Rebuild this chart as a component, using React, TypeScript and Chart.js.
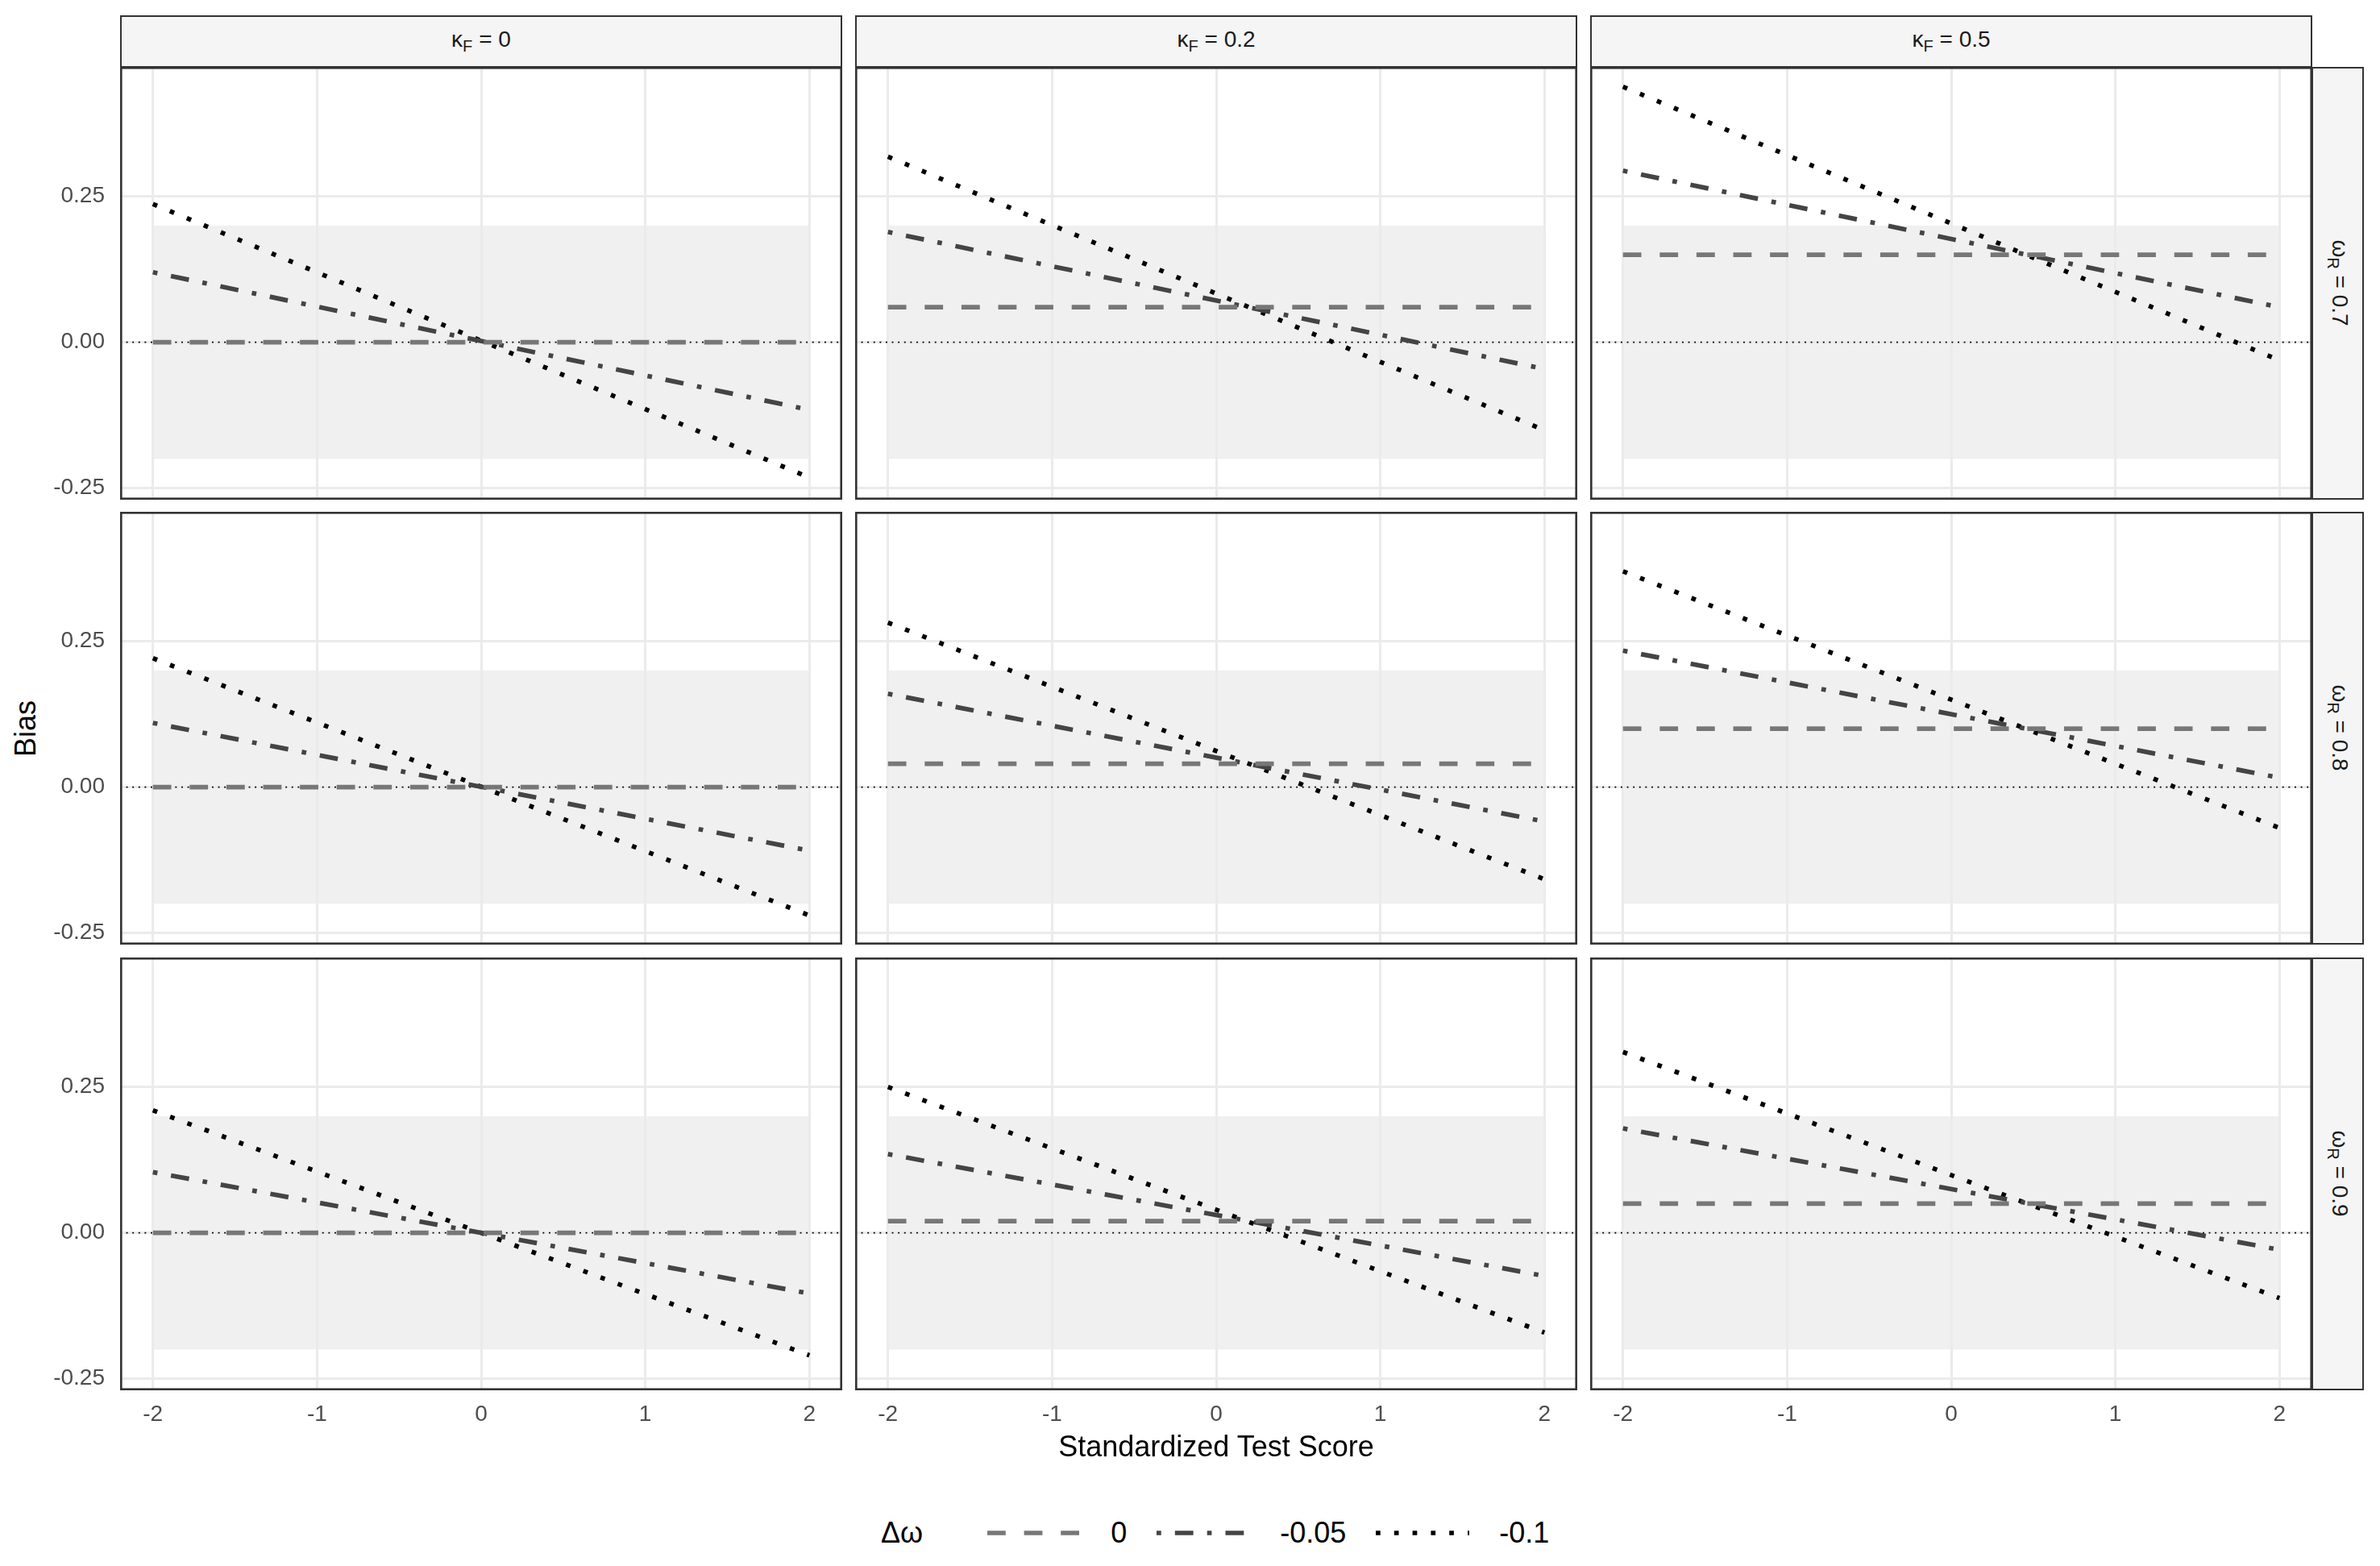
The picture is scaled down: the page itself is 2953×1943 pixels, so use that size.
import React, { useEffect, useRef } from 'react';
import { Chart, registerables } from 'chart.js';

Chart.register(...registerables);
Chart.defaults.font.family = "'Liberation Sans', Arial, Helvetica, sans-serif";

// facet levels
const kappaLevels = ['0', '0.2', '0.5'];
const omegaLevels = ['0.7', '0.8', '0.9'];
const deltaLevels = ['0', '-0.05', '-0.1'];

// axes
const xTicks = [-2, -1, 0, 1, 2];
const xTickLabels = ['-2', '-1', '0', '1', '2'];
const yTicks = [-0.25, 0, 0.25];
const yTickLabels = ['-0.25', '0.00', '0.25'];
const X_MIN = -2.2;
const X_MAX = 2.2;
const Y_MIN = -0.27;
const Y_MAX = 0.472;

// standardized test score at the two ends of every line
const scoreEnds = [-2, 2];

// bias at score -2 and +2, rows = omega_R, columns = kappa_F
const biasDelta0 = [
  [[0, 0], [0.06, 0.06], [0.15, 0.15]],
  [[0, 0], [0.04, 0.04], [0.1, 0.1]],
  [[0, 0], [0.02, 0.02], [0.05, 0.05]],
];
const biasDelta005 = [
  [[0.12, -0.116], [0.189, -0.046], [0.294, 0.06]],
  [[0.11, -0.109], [0.16, -0.059], [0.234, 0.016]],
  [[0.104, -0.104], [0.135, -0.074], [0.179, -0.029]],
];
const biasDelta01 = [
  [[0.237, -0.232], [0.318, -0.151], [0.438, -0.031]],
  [[0.221, -0.22], [0.282, -0.158], [0.37, -0.07]],
  [[0.21, -0.21], [0.25, -0.171], [0.31, -0.112]],
];

// shaded tolerance band and zero reference
const bandScore = [-2, 2];
const bandBias = [-0.2, 0.2];
const referenceBias = 0;

const LW = 5.7;
const lineColors = ['#777777', '#444444', '#000000'];
const lineDashes = [
  [4 * LW, 4 * LW],
  [LW, 3 * LW, 4 * LW, 3 * LW],
  [LW, 3 * LW],
];

// layout (px)
const colX = [149, 1061, 1973];
const rowY = [83, 635, 1188];
const PANEL_W = 896;
const PANEL_H = 537;
const Y_AXIS_W = 89;
const X_AXIS_H = 62;
const STRIP = 64;

const panelDecor = {
  id: 'panelDecor',
  beforeDraw(chart: any) {
    const { ctx, scales } = chart;
    const x0 = scales.x.getPixelForValue(bandScore[0]);
    const x1 = scales.x.getPixelForValue(bandScore[1]);
    const y0 = scales.y.getPixelForValue(bandBias[1]);
    const y1 = scales.y.getPixelForValue(bandBias[0]);
    ctx.save();
    ctx.fillStyle = '#f0f0f0';
    ctx.fillRect(x0, y0, x1 - x0, y1 - y0);
    ctx.restore();
  },
  beforeDatasetsDraw(chart: any) {
    const { ctx, chartArea: a, scales } = chart;
    const y = scales.y.getPixelForValue(referenceBias);
    ctx.save();
    ctx.strokeStyle = '#000';
    ctx.lineWidth = 1.9;
    ctx.setLineDash([1.9, 5.7]);
    ctx.beginPath();
    ctx.moveTo(a.left, y);
    ctx.lineTo(a.right, y);
    ctx.stroke();
    ctx.restore();
  },
  afterDraw(chart: any) {
    const { ctx, chartArea: a } = chart;
    ctx.save();
    ctx.strokeStyle = '#333';
    ctx.lineWidth = 2.6;
    ctx.strokeRect(a.left + 1.3, a.top + 1.3, a.right - a.left - 2.6, a.bottom - a.top - 2.6);
    ctx.restore();
  },
};

const noPadding = (s: any) => {
  s.paddingTop = 0;
  s.paddingBottom = 0;
  s.paddingLeft = 0;
  s.paddingRight = 0;
};

const Panel: React.FC<{ row: number; col: number }> = ({ row, col }) => {
  const canvasRef = useRef<HTMLCanvasElement | null>(null);
  const isLeft = col === 0;
  const isBottom = row === 2;
  const w = PANEL_W + (isLeft ? Y_AXIS_W : 0);
  const h = PANEL_H + (isBottom ? X_AXIS_H : 0);

  useEffect(() => {
    if (!canvasRef.current) return;
    const series = [biasDelta0, biasDelta005, biasDelta01];
    const chart = new Chart(canvasRef.current, {
      type: 'line',
      data: {
        datasets: series.map((s, i) => ({
          label: deltaLevels[i],
          data: scoreEnds.map((x, j) => ({ x, y: s[row][col][j] })),
          borderColor: lineColors[i],
          borderDash: lineDashes[i],
          borderWidth: LW,
          borderCapStyle: 'butt',
          pointRadius: 0,
          fill: false,
          tension: 0,
        })),
      },
      options: {
        animation: false,
        responsive: false,
        devicePixelRatio: 1,
        layout: { padding: 0 },
        plugins: { legend: { display: false }, tooltip: { enabled: false } },
        scales: {
          x: {
            type: 'linear',
            min: X_MIN,
            max: X_MAX,
            afterBuildTicks: (s: any) => {
              s.ticks = xTicks.map((v) => ({ value: v }));
            },
            afterFit: (s: any) => {
              s.height = isBottom ? X_AXIS_H : 0;
              noPadding(s);
            },
            grid: { color: '#ebebeb', lineWidth: 3, drawTicks: false },
            border: { display: false },
            ticks: {
              display: isBottom,
              padding: 13,
              color: '#4d4d4d',
              font: { size: 28 },
              maxRotation: 0,
              autoSkip: false,
              callback: (v: any) => xTickLabels[xTicks.indexOf(Number(v))],
            },
          },
          y: {
            type: 'linear',
            min: Y_MIN,
            max: Y_MAX,
            afterBuildTicks: (s: any) => {
              s.ticks = yTicks.map((v) => ({ value: v }));
            },
            afterFit: (s: any) => {
              s.width = isLeft ? Y_AXIS_W : 0;
              noPadding(s);
            },
            grid: { color: '#ebebeb', lineWidth: 3, drawTicks: false },
            border: { display: false },
            ticks: {
              display: isLeft,
              padding: 19,
              color: '#4d4d4d',
              font: { size: 28 },
              autoSkip: false,
              callback: (v: any) => yTickLabels[yTicks.indexOf(Number(v))],
            },
          },
        },
      } as any,
      plugins: [panelDecor],
    });
    return () => {
      chart.destroy();
    };
  }, [row, col]);

  return (
    <canvas
      ref={canvasRef}
      width={w}
      height={h}
      style={{
        position: 'absolute',
        left: colX[col] - (isLeft ? Y_AXIS_W : 0),
        top: rowY[row],
        width: w,
        height: h,
      }}
    />
  );
};

const stripStyle: React.CSSProperties = {
  position: 'absolute',
  boxSizing: 'border-box',
  background: '#f5f5f5',
  border: '2.6px solid #333',
  display: 'flex',
  alignItems: 'center',
  justifyContent: 'center',
  fontSize: 28,
  color: '#1a1a1a',
  whiteSpace: 'nowrap',
};

const subStyle: React.CSSProperties = { fontSize: '0.72em', verticalAlign: '-0.3em' };

const LegendKey: React.FC<{ i: number }> = ({ i }) => (
  <svg width={116} height={20} style={{ display: 'block' }}>
    <line
      x1={0}
      y1={10}
      x2={116}
      y2={10}
      stroke={lineColors[i]}
      strokeWidth={LW}
      strokeDasharray={lineDashes[i].join(' ')}
    />
  </svg>
);

export default function App() {
  const font = "'Liberation Sans', Arial, Helvetica, sans-serif";
  return (
    <div
      style={{
        position: 'absolute',
        left: 0,
        top: 0,
        width: 2953,
        height: 1943,
        background: '#fff',
        overflow: 'hidden',
        fontFamily: font,
      }}
    >
      {kappaLevels.map((k, c) => (
        <div key={'t' + c} style={{ ...stripStyle, left: colX[c], top: rowY[0] - STRIP, width: PANEL_W, height: STRIP + 1 }}>
          <span>
            κ<sub style={subStyle}>F</sub> = {k}
          </span>
        </div>
      ))}
      {omegaLevels.map((o, r) => (
        <div key={'r' + r} style={{ ...stripStyle, left: colX[2] + PANEL_W - 1, top: rowY[r], width: STRIP + 1, height: PANEL_H }}>
          <span style={{ transform: 'rotate(90deg)', display: 'inline-block' }}>
            ω<sub style={subStyle}>R</sub> = {o}
          </span>
        </div>
      ))}
      {omegaLevels.map((_, r) =>
        kappaLevels.map((__, c) => <Panel key={r + '-' + c} row={r} col={c} />)
      )}
      <div
        style={{
          position: 'absolute',
          left: 32,
          top: (rowY[0] + rowY[2] + PANEL_H) / 2,
          transform: 'translate(-50%, -50%) rotate(-90deg)',
          fontSize: 36,
          color: '#000',
          whiteSpace: 'nowrap',
        }}
      >
        Bias
      </div>
      <div
        style={{
          position: 'absolute',
          left: (colX[0] + colX[2] + PANEL_W) / 2,
          top: 1795,
          transform: 'translate(-50%, -50%)',
          fontSize: 36,
          color: '#000',
          whiteSpace: 'nowrap',
        }}
      >
        Standardized Test Score
      </div>
      <div
        style={{
          position: 'absolute',
          left: 1093,
          top: 1902,
          transform: 'translateY(-50%)',
          display: 'flex',
          alignItems: 'center',
          fontSize: 36,
          color: '#000',
          whiteSpace: 'nowrap',
        }}
      >
        <span style={{ marginRight: 80 }}>Δω</span>
        {deltaLevels.map((d, i) => (
          <React.Fragment key={d}>
            <LegendKey i={i} />
            <span style={{ marginLeft: 37, marginRight: i < 2 ? 37 : 0 }}>{d}</span>
          </React.Fragment>
        ))}
      </div>
    </div>
  );
}
